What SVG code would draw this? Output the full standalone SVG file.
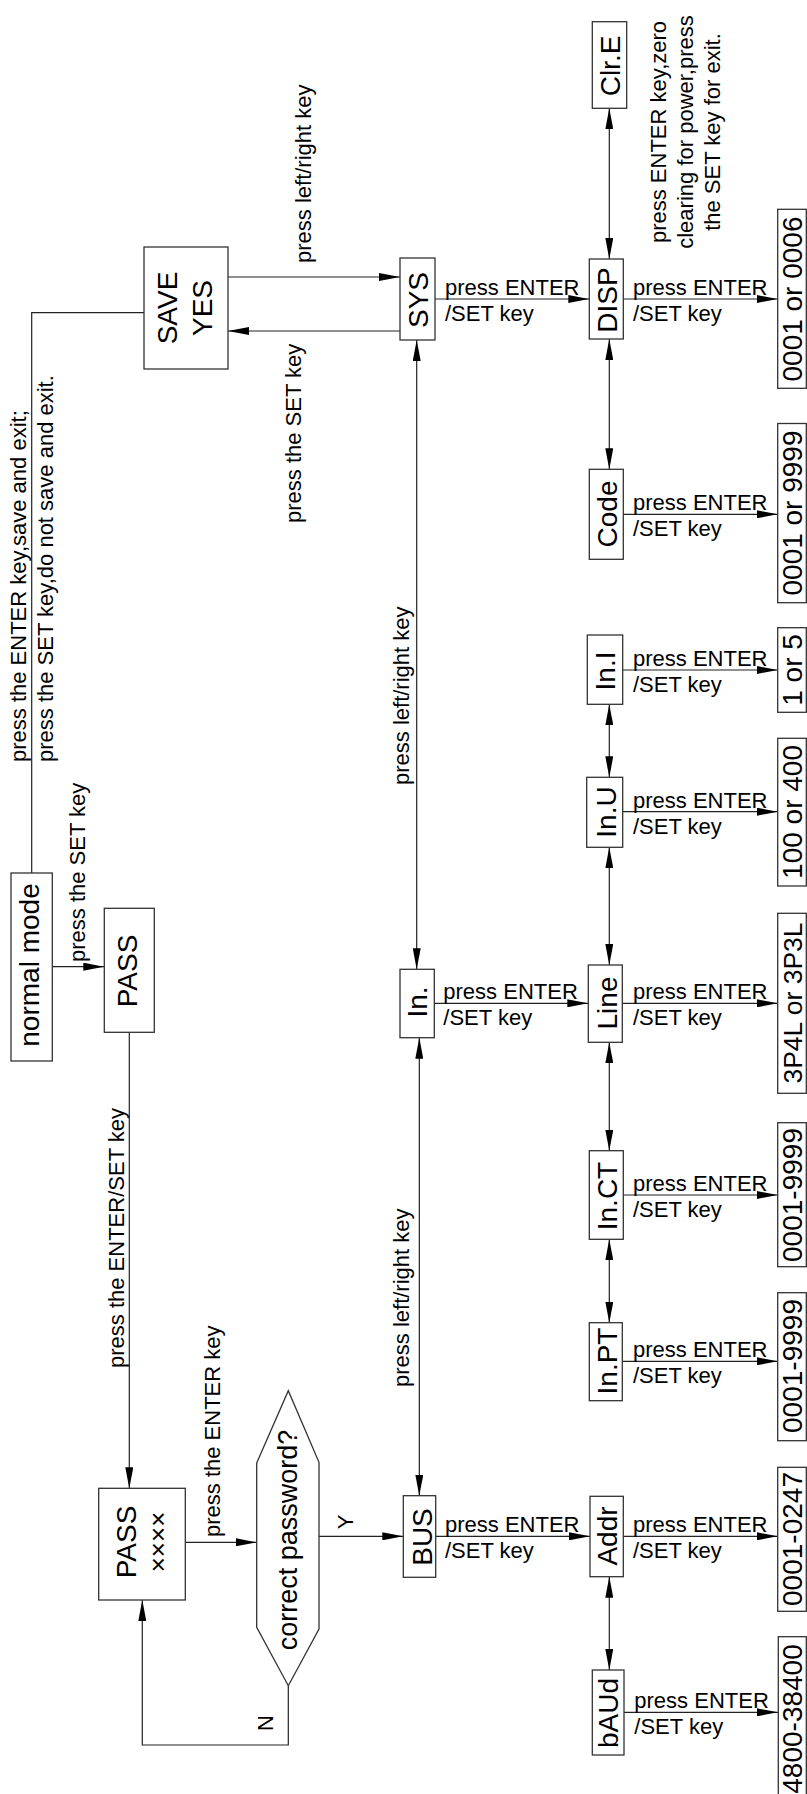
<svg xmlns="http://www.w3.org/2000/svg" width="807" height="1794" viewBox="0 0 807 1794">
<style>
text{font-family:"Liberation Sans",Arial,Helvetica,sans-serif;fill:#000}
.n{font-size:28px;text-anchor:middle}
.v{font-size:28px;text-anchor:middle}
.s{font-size:22px}
.sm{font-size:22px;text-anchor:middle}
.box{fill:#fff;stroke:#333;stroke-width:1.3}
.c{fill:none;stroke:#222;stroke-width:1.2}
.a{marker-end:url(#ah)}
.d{marker-start:url(#ah);marker-end:url(#ah)}
</style>
<defs>
<marker id="ah" viewBox="0 0 21 8" refX="21" refY="4" markerWidth="21" markerHeight="8" markerUnits="userSpaceOnUse" orient="auto-start-reverse"><path d="M0,0 L21,4 L0,8 z" fill="#000"/></marker>
</defs>
<rect width="807" height="1794" fill="#fff"/>

<g id="connectors">
<path class="c" d="M144,312.7 H31.7 V873"/>
<line class="c a" x1="228" y1="277" x2="400" y2="277"/>
<line class="c a" x1="400" y1="331" x2="228" y2="331"/>
<line class="c a" x1="52.3" y1="966.7" x2="104.3" y2="966.7"/>
<line class="c a" x1="129.3" y1="1032.3" x2="129.3" y2="1488.3"/>
<line class="c a" x1="185.3" y1="1542.3" x2="256.7" y2="1542.3"/>
<line class="c a" x1="319" y1="1536.3" x2="403.3" y2="1536.3"/>
<path class="c a" d="M288.3,1685.7 V1745 H142.3 V1600"/>
<line class="c d" x1="416.7" y1="340" x2="416.7" y2="969.3"/>
<line class="c d" x1="419.3" y1="1037.7" x2="419.3" y2="1495.7"/>
<line class="c d" x1="609.3" y1="108.3" x2="609.3" y2="259"/>
<line class="c d" x1="609.3" y1="339" x2="609.3" y2="469.3"/>
<line class="c d" x1="609.3" y1="704.3" x2="609.3" y2="777.3"/>
<line class="c d" x1="609.3" y1="847.3" x2="609.3" y2="965"/>
<line class="c d" x1="609.3" y1="1042.3" x2="609.3" y2="1150.7"/>
<line class="c d" x1="609.3" y1="1239.3" x2="609.3" y2="1322.7"/>
<line class="c d" x1="609.3" y1="1576.7" x2="609.3" y2="1670"/>
<line class="c a" x1="435" y1="299" x2="589.3" y2="299"/>
<line class="c a" x1="623.3" y1="299" x2="777.7" y2="299"/>
<line class="c a" x1="623.3" y1="514.3" x2="777.7" y2="514.3"/>
<line class="c a" x1="622.7" y1="670" x2="777.7" y2="670"/>
<line class="c a" x1="622.7" y1="811.7" x2="777.7" y2="811.7"/>
<line class="c a" x1="434.3" y1="1003.3" x2="588.3" y2="1003.3"/>
<line class="c a" x1="622.3" y1="1003.3" x2="777.7" y2="1003.3"/>
<line class="c a" x1="623.3" y1="1195" x2="777.7" y2="1195"/>
<line class="c a" x1="622.3" y1="1361.3" x2="777.7" y2="1361.3"/>
<line class="c a" x1="435.7" y1="1536.3" x2="590" y2="1536.3"/>
<line class="c a" x1="623.3" y1="1536.3" x2="777.7" y2="1536.3"/>
<line class="c a" x1="624" y1="1712.3" x2="778" y2="1712.3"/>
</g>

<g id="connector-labels">
<text class="s" transform="translate(311,263) rotate(-90)">press left/right key</text>
<text class="s" transform="translate(301,523) rotate(-90)">press the SET key</text>
<text class="s" transform="translate(26,762) rotate(-90)">press the ENTER key,save and exit;</text>
<text class="s" transform="translate(53,762) rotate(-90)">press the SET key,do not save and exit.</text>
<text class="s" transform="translate(85,962) rotate(-90)">press the SET key</text>
<text class="s" transform="translate(124,1368) rotate(-90)">press the ENTER/SET key</text>
<text class="s" transform="translate(220,1537) rotate(-90)">press the ENTER key</text>
<text class="s" transform="translate(409,785) rotate(-90)">press left/right key</text>
<text class="s" transform="translate(409,1387) rotate(-90)">press left/right key</text>
<text class="sm" transform="translate(353,1522) rotate(-90)">Y</text>
<text class="sm" transform="translate(273,1723) rotate(-90)">N</text>
<text class="sm" transform="translate(666,132) rotate(-90)">press ENTER key,zero</text>
<text class="sm" transform="translate(693,132) rotate(-90)">clearing for power,press</text>
<text class="sm" transform="translate(720,132) rotate(-90)">the SET key for exit.</text>
<g class="s">
<text x="445" y="295">press ENTER</text><text x="445" y="321">/SET key</text>
<text x="633" y="295">press ENTER</text><text x="633" y="321">/SET key</text>
<text x="633" y="510.3">press ENTER</text><text x="633" y="536.3">/SET key</text>
<text x="633" y="666">press ENTER</text><text x="633" y="692">/SET key</text>
<text x="633" y="807.7">press ENTER</text><text x="633" y="833.7">/SET key</text>
<text x="443.3" y="999.3">press ENTER</text><text x="443.3" y="1025.3">/SET key</text>
<text x="633" y="999.3">press ENTER</text><text x="633" y="1025.3">/SET key</text>
<text x="633" y="1191">press ENTER</text><text x="633" y="1217">/SET key</text>
<text x="633" y="1357.3">press ENTER</text><text x="633" y="1383.3">/SET key</text>
<text x="445" y="1532.3">press ENTER</text><text x="445" y="1558.3">/SET key</text>
<text x="633" y="1532.3">press ENTER</text><text x="633" y="1558.3">/SET key</text>
<text x="634.3" y="1708.3">press ENTER</text><text x="634.3" y="1734.3">/SET key</text>
</g>
</g>

<g id="save-yes"><rect class="box" x="144" y="247" width="84" height="122"/>
<text class="n" transform="translate(177,308) rotate(-90)">SAVE</text>
<text class="n" transform="translate(212,308) rotate(-90)">YES</text></g>
<g id="normal-mode"><rect class="box" x="11" y="873" width="41.3" height="188"/>
<text class="n" transform="translate(39,965) rotate(-90)">normal mode</text></g>
<g id="pass"><rect class="box" x="104.3" y="908.3" width="50" height="124"/>
<text class="n" transform="translate(137,971) rotate(-90)">PASS</text></g>
<g id="pass-input"><rect class="box" x="98.7" y="1488.3" width="86.6" height="111.7"/>
<text class="n" transform="translate(136,1542) rotate(-90)">PASS</text>
<text class="n" style="font-size:26px" transform="translate(167,1542) rotate(-90)">××××</text></g>
<g id="decision"><polygon class="box" points="256.7,1463 288.3,1390.7 319,1462.3 319,1629 288.3,1685.7 256.7,1627.3"/>
<text class="n" style="font-size:27px" transform="translate(297,1540) rotate(-90)">correct password?</text></g>

<g id="sys"><rect class="box" x="400" y="258" width="35" height="82"/>
<text class="n" transform="translate(428,300) rotate(-90)">SYS</text></g>
<g id="in"><rect class="box" x="400" y="969.3" width="34.3" height="68.4"/>
<text class="n" transform="translate(427,1002) rotate(-90)">In.</text></g>
<g id="bus"><rect class="box" x="403.3" y="1495.7" width="32.4" height="81.6"/>
<text class="n" transform="translate(432,1537) rotate(-90)">BUS</text></g>

<g id="clr-e"><rect class="box" x="592.3" y="21.7" width="34.4" height="86.6"/>
<text class="n" transform="translate(620,66) rotate(-90)">Clr.E</text></g>
<g id="disp"><rect class="box" x="589.3" y="259" width="34" height="80"/>
<text class="n" transform="translate(617,300) rotate(-90)">DISP</text></g>
<g id="code"><rect class="box" x="589.3" y="469.3" width="34" height="90"/>
<text class="n" transform="translate(617,514) rotate(-90)">Code</text></g>
<g id="in-i"><rect class="box" x="587.3" y="635" width="35.4" height="69.3"/>
<text class="n" transform="translate(615,671) rotate(-90)">In.I</text></g>
<g id="in-u"><rect class="box" x="586.7" y="777.3" width="36" height="70"/>
<text class="n" transform="translate(616,812) rotate(-90)">In.U</text></g>
<g id="line"><rect class="box" x="588.3" y="965" width="34" height="77.3"/>
<text class="n" transform="translate(617,1003) rotate(-90)">Line</text></g>
<g id="in-ct"><rect class="box" x="589.3" y="1150.7" width="34" height="88.6"/>
<text class="n" transform="translate(617,1196) rotate(-90)">In.CT</text></g>
<g id="in-pt"><rect class="box" x="589.3" y="1322.7" width="33" height="78"/>
<text class="n" transform="translate(617,1361) rotate(-90)">In.PT</text></g>
<g id="addr"><rect class="box" x="590" y="1496.3" width="33.3" height="80.4"/>
<text class="n" transform="translate(617,1536) rotate(-90)">Addr</text></g>
<g id="baud"><rect class="box" x="592.3" y="1670" width="31.7" height="85"/>
<text class="n" transform="translate(618,1713) rotate(-90)">bAUd</text></g>

<g id="val-disp"><rect class="box" x="777.7" y="209.3" width="28.6" height="179"/>
<text class="v" transform="translate(802,299) rotate(-90)">0001 or 0006</text></g>
<g id="val-code"><rect class="box" x="777.7" y="423.5" width="28.6" height="179.2"/>
<text class="v" transform="translate(802,513) rotate(-90)">0001 or 9999</text></g>
<g id="val-in-i"><rect class="box" x="777.7" y="627.7" width="28.6" height="84.6"/>
<text class="v" transform="translate(802,670) rotate(-90)">1 or 5</text></g>
<g id="val-in-u"><rect class="box" x="777.7" y="738.3" width="28.6" height="147.7"/>
<text class="v" transform="translate(802,812) rotate(-90)">100 or 400</text></g>
<g id="val-line"><rect class="box" x="777.7" y="913.3" width="28.6" height="180"/>
<text class="v" style="font-size:26.5px" transform="translate(802,1003) rotate(-90)">3P4L or 3P3L</text></g>
<g id="val-in-ct"><rect class="box" x="777.7" y="1122.7" width="28.6" height="144"/>
<text class="v" transform="translate(802,1195) rotate(-90)">0001-9999</text></g>
<g id="val-in-pt"><rect class="box" x="777.7" y="1292.7" width="28.6" height="148"/>
<text class="v" transform="translate(802,1366) rotate(-90)">0001-9999</text></g>
<g id="val-addr"><rect class="box" x="777.7" y="1467.3" width="28.6" height="144"/>
<text class="v" transform="translate(802,1539) rotate(-90)">0001-0247</text></g>
<g id="val-baud"><rect class="box" x="778.3" y="1636.7" width="28" height="170"/>
<text class="v" transform="translate(802,1719) rotate(-90)">4800-38400</text></g>
</svg>
